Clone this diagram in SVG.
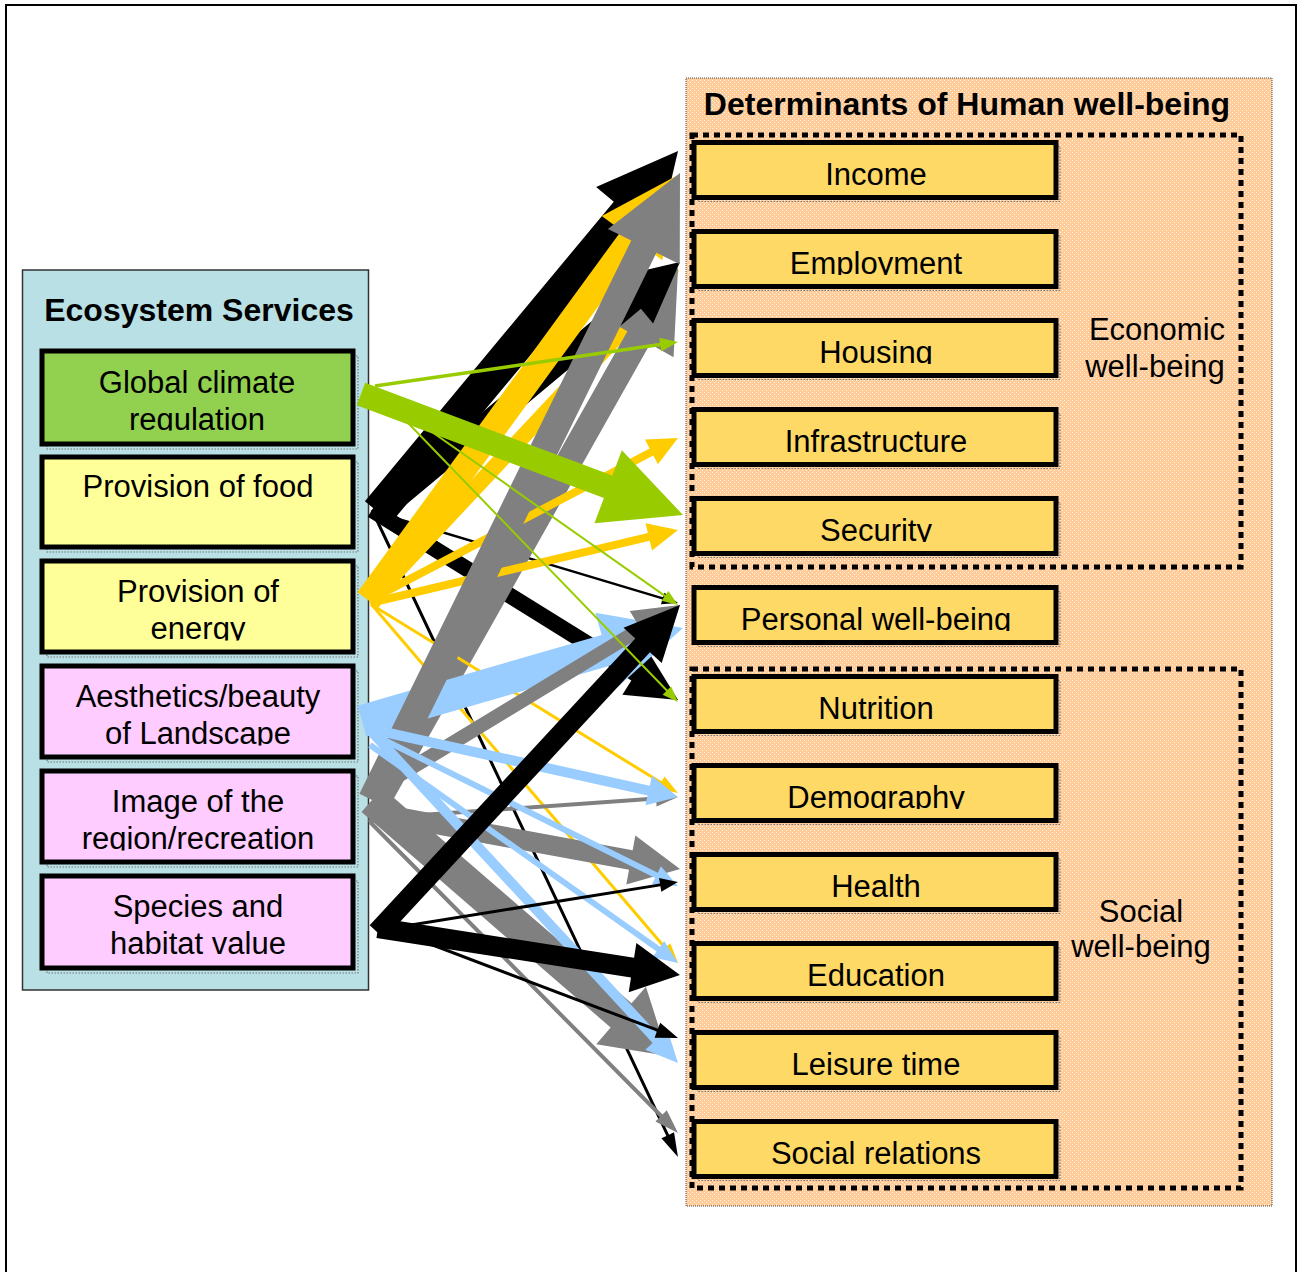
<svg xmlns="http://www.w3.org/2000/svg" width="1299" height="1272" viewBox="0 0 1299 1272">
<style>
.t{font-family:"Liberation Sans",Arial,sans-serif;font-size:31px;fill:#000;text-anchor:middle}
.bt{font-family:"Liberation Sans",Arial,sans-serif;font-size:32px;font-weight:bold;fill:#000;text-anchor:middle}
.box{stroke:#000;stroke-width:5}
.sh{fill:none;stroke:#777;stroke-width:1.2;stroke-dasharray:1.5 1.5}
.grp{fill:none;stroke:#000;stroke-width:5;stroke-dasharray:6 5}
.gold{fill:#FFD966}
.yel{fill:#FFFF99}
.pink{fill:#FFCCFF}
.grn{fill:#92D050}
.k{fill:#000}
.g{fill:#99CC00}
.y{fill:#FFCC00}
.bl{fill:#99CCFF}
.gr{fill:#808080}
</style>
<defs>
<pattern id="peach" width="4" height="4" patternUnits="userSpaceOnUse">
<rect width="4" height="4" fill="#FFCC99"/>
<rect width="1" height="1" fill="#FFF4E8"/>
<rect x="2" y="2" width="1" height="1" fill="#FFF4E8"/>
</pattern>
<clipPath id="lclip" clipPathUnits="userSpaceOnUse"><rect x="0" y="0" width="311" height="79.5"/></clipPath>
<clipPath id="rclip" clipPathUnits="userSpaceOnUse"><rect x="0" y="0" width="362" height="43.5"/></clipPath>
</defs>

<rect x="6" y="5" width="1290" height="1290" fill="#fff" stroke="#000" stroke-width="2"/>

<g id="ecosystem-services">
<rect x="22.5" y="270" width="346" height="720" fill="#B9E0E4" stroke="#333" stroke-width="1.5"/>
<text class="bt" x="199" y="320.5">Ecosystem Services</text>
</g>

<g id="determinants">
<rect x="686" y="78" width="586" height="1128" fill="url(#peach)" stroke="#444" stroke-width="1" stroke-dasharray="1 1"/>
<text class="bt" x="967" y="115">Determinants of Human well-being</text>
</g>

<g id="economic-well-being">
<rect class="grp" x="692" y="135" width="549" height="432"/>
<text class="t" x="1157" y="340">Economic</text>
<text class="t" x="1155" y="377">well-being</text>
</g>

<g id="social-well-being">
<rect class="grp" x="692" y="669" width="549" height="519"/>
<text class="t" x="1141" y="922">Social</text>
<text class="t" x="1141" y="957">well-being</text>
</g>

<g id="global-climate-regulation" transform="translate(42,351)">
<rect class="sh" x="5" y="5" width="311" height="93"/>
<rect class="box grn" x="0" y="0" width="311" height="93"/>
<g clip-path="url(#lclip)"><text class="t" x="155" y="41.5">Global climate</text><text class="t" x="155" y="78.5">regulation</text></g>
</g>
<g id="provision-of-food" transform="translate(42,457)">
<rect class="sh" x="5" y="5" width="311" height="90"/>
<rect class="box yel" x="0" y="0" width="311" height="90"/>
<text class="t" x="156" y="40">Provision of food</text>
</g>
<g id="provision-of-energy" transform="translate(42,561)">
<rect class="sh" x="5" y="5" width="311" height="91"/>
<rect class="box yel" x="0" y="0" width="311" height="91"/>
<g clip-path="url(#lclip)"><text class="t" x="156" y="41">Provision of</text><text class="t" x="156" y="77.5">energy</text></g>
</g>
<g id="aesthetics" transform="translate(42,666)">
<rect class="sh" x="5" y="5" width="311" height="91"/>
<rect class="box pink" x="0" y="0" width="311" height="91"/>
<g clip-path="url(#lclip)"><text class="t" x="156" y="41">Aesthetics/beauty</text><text class="t" x="156" y="77.5">of Landscape</text></g>
</g>
<g id="image-of-region" transform="translate(42,771)">
<rect class="sh" x="5" y="5" width="311" height="91"/>
<rect class="box pink" x="0" y="0" width="311" height="91"/>
<g clip-path="url(#lclip)"><text class="t" x="156" y="41">Image of the</text><text class="t" x="156" y="77.5">region/recreation</text></g>
</g>
<g id="species-habitat" transform="translate(42,876)">
<rect class="sh" x="5" y="5" width="311" height="92"/>
<rect class="box pink" x="0" y="0" width="311" height="92"/>
<text class="t" x="156" y="41">Species and</text><text class="t" x="156" y="77.5">habitat value</text>
</g>

<g id="income" transform="translate(694,142.5)"><rect class="sh" x="4" y="4" width="362" height="55"/><rect class="box gold" width="362" height="55"/><text class="t" x="182" y="42" clip-path="url(#rclip)">Income</text></g>
<g id="employment" transform="translate(694,231.5)"><rect class="sh" x="4" y="4" width="362" height="55"/><rect class="box gold" width="362" height="55"/><text class="t" x="182" y="42" clip-path="url(#rclip)">Employment</text></g>
<g id="housing" transform="translate(694,320.5)"><rect class="sh" x="4" y="4" width="362" height="55"/><rect class="box gold" width="362" height="55"/><text class="t" x="182" y="42" clip-path="url(#rclip)">Housing</text></g>
<g id="infrastructure" transform="translate(694,409.5)"><rect class="sh" x="4" y="4" width="362" height="55"/><rect class="box gold" width="362" height="55"/><text class="t" x="182" y="42" clip-path="url(#rclip)">Infrastructure</text></g>
<g id="security" transform="translate(694,498.5)"><rect class="sh" x="4" y="4" width="362" height="55"/><rect class="box gold" width="362" height="55"/><text class="t" x="182" y="42" clip-path="url(#rclip)">Security</text></g>
<g id="personal-well-being" transform="translate(694,587.5)"><rect class="sh" x="4" y="4" width="362" height="55"/><rect class="box gold" width="362" height="55"/><text class="t" x="182" y="42" clip-path="url(#rclip)">Personal well-being</text></g>
<g id="nutrition" transform="translate(694,676.5)"><rect class="sh" x="4" y="4" width="362" height="55"/><rect class="box gold" width="362" height="55"/><text class="t" x="182" y="42" clip-path="url(#rclip)">Nutrition</text></g>
<g id="demography" transform="translate(694,765.5)"><rect class="sh" x="4" y="4" width="362" height="55"/><rect class="box gold" width="362" height="55"/><text class="t" x="182" y="42" clip-path="url(#rclip)">Demography</text></g>
<g id="health" transform="translate(694,854.5)"><rect class="sh" x="4" y="4" width="362" height="55"/><rect class="box gold" width="362" height="55"/><text class="t" x="182" y="42" clip-path="url(#rclip)">Health</text></g>
<g id="education" transform="translate(694,943.5)"><rect class="sh" x="4" y="4" width="362" height="55"/><rect class="box gold" width="362" height="55"/><text class="t" x="182" y="42" clip-path="url(#rclip)">Education</text></g>
<g id="leisure-time" transform="translate(694,1032.5)"><rect class="sh" x="4" y="4" width="362" height="55"/><rect class="box gold" width="362" height="55"/><text class="t" x="182" y="42" clip-path="url(#rclip)">Leisure time</text></g>
<g id="social-relations" transform="translate(694,1121.5)"><rect class="sh" x="4" y="4" width="362" height="55"/><rect class="box gold" width="362" height="55"/><text class="t" x="182" y="42" clip-path="url(#rclip)">Social relations</text></g>

<g id="connectors">
<polygon class="k" transform="translate(378,512) rotate(-50.27)" points="0,-17 389.4,-17 389.4,-40 469.4,0 389.4,40 389.4,17 0,17"/>
<polygon class="k" transform="translate(372,510) rotate(31.83)" points="0,-8 310.2,-8 310.2,-25 360.2,0 310.2,25 310.2,8 0,8"/>
<polygon class="k" transform="translate(375,512) rotate(16.72)" points="0,-1.25 300.4,-1.25 300.4,-6 316.4,0 300.4,6 300.4,1.25 0,1.25"/>
<polygon class="k" transform="translate(372,510) rotate(64.69)" points="0,-1.5 691.7,-1.5 691.7,-7 715.7,0 691.7,7 691.7,1.5 0,1.5"/>
<polygon class="y" transform="translate(370,600) rotate(-46.88)" points="0,-8 392.1,-8 392.1,-26 452.1,0 392.1,26 392.1,8 0,8"/>
<polygon class="gr" transform="translate(378,800) rotate(-60.58)" points="0,-13 530.8,-13 530.8,-40 610.8,0 530.8,40 530.8,13 0,13"/>
<polygon class="k" transform="translate(380,512) rotate(-39.81)" points="0,-11 330.5,-11 330.5,-30 390.5,0 330.5,30 330.5,11 0,11"/>
<polygon class="y" transform="translate(368,600) rotate(-53.89)" points="0,-13 448,-13 448,-37.5 526,0 448,37.5 448,13 0,13"/>
<polygon class="y" transform="translate(370,600) rotate(-27.74)" points="0,-4 318,-4 318,-14 348,0 318,14 318,4 0,4"/>
<polygon class="y" transform="translate(370,603) rotate(-13.33)" points="0,-4 286.5,-4 286.5,-14 316.5,0 286.5,14 286.5,4 0,4"/>
<polygon class="y" transform="translate(372,605) rotate(31.57)" points="0,-1.5 339.1,-1.5 339.1,-7 359.1,0 339.1,7 339.1,1.5 0,1.5"/>
<polygon class="y" transform="translate(372,605) rotate(49.48)" points="0,-1.5 451,-1.5 451,-7 471,0 451,7 451,1.5 0,1.5"/>
<polygon class="bl" transform="translate(362,721) rotate(-16.16)" points="0,-16 254.2,-16 254.2,-39 334.2,0 254.2,39 254.2,16 0,16"/>
<polygon class="gr" transform="translate(372,800) rotate(-63.84)" points="0,-14 616.6,-14 616.6,-40 698.6,0 616.6,40 616.6,14 0,14"/>
<polygon class="gr" transform="translate(375,790) rotate(-31.24)" points="0,-7 310.7,-7 310.7,-21 356.7,0 310.7,21 310.7,7 0,7"/>
<polygon class="gr" transform="translate(378,818) rotate(-4)" points="0,-2 278.7,-2 278.7,-8 300.7,0 278.7,8 278.7,2 0,2"/>
<polygon class="gr" transform="translate(370,812) rotate(10.42)" points="0,-10 265.2,-10 265.2,-25 315.2,0 265.2,25 265.2,10 0,10"/>
<polygon class="gr" transform="translate(372,800) rotate(40.85)" points="0,-16 329.3,-16 329.3,-38 391.3,0 329.3,38 329.3,16 0,16"/>
<polygon class="gr" transform="translate(370,822) rotate(45.28)" points="0,-2 413.7,-2 413.7,-8 437.7,0 413.7,8 413.7,2 0,2"/>
<polygon class="bl" transform="translate(366,728) rotate(12.47)" points="0,-5 289.5,-5 289.5,-15 319.5,0 289.5,15 289.5,5 0,5"/>
<polygon class="bl" transform="translate(368,732) rotate(26.42)" points="0,-3 322.1,-3 322.1,-10 346.1,0 322.1,10 322.1,3 0,3"/>
<polygon class="bl" transform="translate(370,745) rotate(35.29)" points="0,-3 353.3,-3 353.3,-10 377.3,0 353.3,10 353.3,3 0,3"/>
<polygon class="bl" transform="translate(370,730) rotate(47.23)" points="0,-5 421.6,-5 421.6,-15 453.6,0 421.6,15 421.6,5 0,5"/>
<polygon class="k" transform="translate(377,932) rotate(-47.18)" points="0,-10 390.8,-10 390.8,-26 445.8,0 390.8,26 390.8,10 0,10"/>
<polygon class="k" transform="translate(380,930) rotate(-9.15)" points="0,-1.5 283.8,-1.5 283.8,-7 301.8,0 283.8,7 283.8,1.5 0,1.5"/>
<polygon class="k" transform="translate(378,928) rotate(8.85)" points="0,-10 257.6,-10 257.6,-25 305.6,0 257.6,25 257.6,10 0,10"/>
<polygon class="k" transform="translate(380,925) rotate(20.77)" points="0,-1.5 296.7,-1.5 296.7,-8 318.7,0 296.7,8 296.7,1.5 0,1.5"/>
<polygon class="g" transform="translate(361,394) rotate(20.59)" points="0,-12 264,-12 264,-39 344,0 264,39 264,12 0,12"/>
<polygon class="g" transform="translate(375,386) rotate(-8.26)" points="0,-1.75 288.2,-1.75 288.2,-7 306.2,0 288.2,7 288.2,1.75 0,1.75"/>
<polygon class="g" transform="translate(378,394) rotate(35.12)" points="0,-1 350.8,-1 350.8,-6 366.8,0 350.8,6 350.8,1 0,1"/>
<polygon class="g" transform="translate(380,394) rotate(45.95)" points="0,-1 412.6,-1 412.6,-6 428.6,0 412.6,6 412.6,1 0,1"/>
</g>
</svg>
